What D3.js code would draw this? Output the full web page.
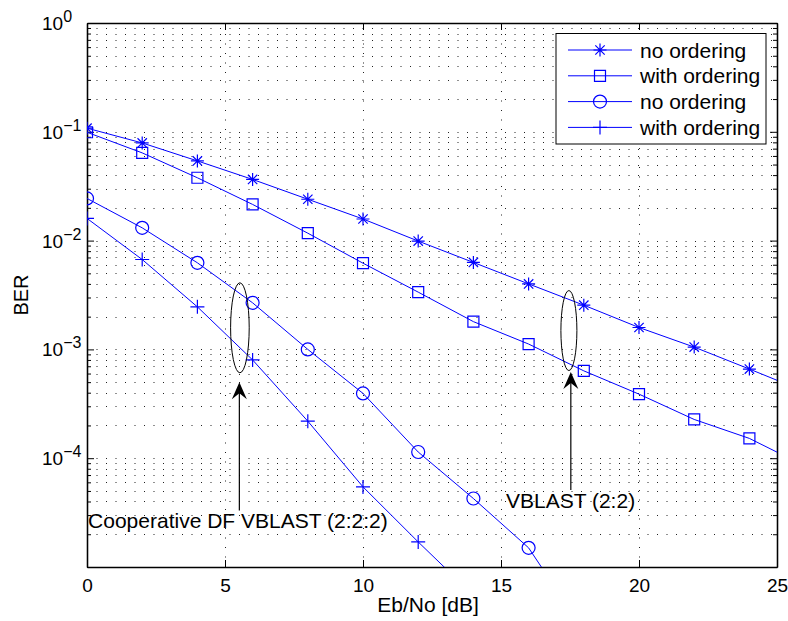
<!DOCTYPE html>
<html>
<head>
<meta charset="utf-8">
<script src="https://cdn.jsdelivr.net/npm/d3@7"></script>
<style>
body { margin: 0; background: #fff; }
svg { display: block; font-family: "Liberation Sans", Arial, sans-serif; }
</style>
</head>
<body>
<div class="visHolder"></div>
<script>
// data
var ebno = [0, 2, 4, 6, 8, 10, 12, 14, 16, 18, 20, 22, 24, 26];
var vblastNoOrd = [0.108, 0.079, 0.054, 0.0365, 0.024, 0.0158, 0.0099, 0.0063, 0.0040, 0.00255, 0.00159, 0.00105, 0.00066, 0.00041];
var vblastOrd = [0.099, 0.064, 0.0378, 0.0215, 0.0117, 0.0062, 0.00336, 0.0018, 0.00112, 0.000635, 0.000388, 0.000227, 0.000152, 0.000085];
var coopNoOrd = [0.0244, 0.0131, 0.00625, 0.00268, 0.001, 0.000394, 0.000114, 4.26e-5, 1.5e-5, 2.6e-6];
var coopOrd = [0.016, 0.0067, 0.00246, 0.0008, 0.000219, 5.45e-5, 1.7e-5, 5.5e-6];
var legendLabels = ['no ordering', 'with ordering', 'no ordering', 'with ordering'];
var markers = ['star', 'square', 'circle', 'plus'];
var xTicks = [0, 5, 10, 15, 20, 25];
var yTicks = [1, 0.1, 0.01, 0.001, 0.0001];
var yExps = ['0', '\u22121', '\u22122', '\u22123', '\u22124'];

// annotations (data coords)
var ellipses = [{x: 5.54, y: 0.00158, rx: 9.3, ry: 45}, {x: 17.46, y: 0.00149, rx: 8, ry: 40}];
var arrows = [{x: 5.52, y0: 3.3e-5, y1: 5.0e-4}, {x: 17.53, y0: 5.1e-5, y1: 6.2e-4}];
var notes = [{x: 0.04, y: 2.3e-5, text: 'Cooperative DF VBLAST (2:2:2)'}, {x: 15.18, y: 3.5e-5, text: 'VBLAST (2:2)'}];

var W = 788, H = 621;
var pLeft = 87, pRight = 777, pTop = 23, pBottom = 567;
var blue = '#0000ff';

var svg = d3.select('.visHolder').append('svg')
  .attr('width', W)
  .attr('height', H);

svg.append('rect').attr('width', W).attr('height', H).attr('fill', '#fff');

var x = d3.scaleLinear().domain([0, 25]).range([pLeft, pRight]);
var y = d3.scaleLog().domain([1e-5, 1]).range([pBottom, pTop]);

var minorY = [];
for (var e = -5; e < 0; e++) {
  for (var m = 2; m <= 9; m++) minorY.push(m * Math.pow(10, e));
}

// grid
var grid = svg.append('g').attr('stroke', '#222').attr('stroke-width', 1).attr('stroke-dasharray', '1,8.5');
grid.selectAll('.hg').data(minorY.concat(yTicks.slice(1))).enter().append('line')
  .attr('x1', pLeft).attr('x2', pRight)
  .attr('y1', function(d) { return Math.round(y(d)) + 0.5; })
  .attr('y2', function(d) { return Math.round(y(d)) + 0.5; });
grid.selectAll('.vg').data(xTicks.slice(1, -1)).enter().append('line')
  .attr('y1', pBottom).attr('y2', pTop)
  .attr('x1', function(d) { return Math.round(x(d)) + 0.5; })
  .attr('x2', function(d) { return Math.round(x(d)) + 0.5; });

// axes
var axB = svg.append('g').attr('transform', 'translate(0,' + pBottom + ')')
  .call(d3.axisBottom(x).tickValues(xTicks).tickSize(-7).tickSizeOuter(0).tickPadding(12));
var axT = svg.append('g').attr('transform', 'translate(0,' + pTop + ')')
  .call(d3.axisTop(x).tickValues(xTicks).tickSize(-7).tickSizeOuter(0).tickFormat(''));
var axL = svg.append('g').attr('transform', 'translate(' + pLeft + ',0)')
  .call(d3.axisLeft(y).tickValues(yTicks.concat([1e-5])).tickSize(-7).tickSizeOuter(0).tickFormat(''));
var axR = svg.append('g').attr('transform', 'translate(' + pRight + ',0)')
  .call(d3.axisRight(y).tickValues(yTicks.concat([1e-5])).tickSize(-7).tickSizeOuter(0).tickFormat(''));
var axLm = svg.append('g').attr('transform', 'translate(' + pLeft + ',0)')
  .call(d3.axisLeft(y).tickValues(minorY).tickSize(-4).tickSizeOuter(0).tickFormat(''));
var axRm = svg.append('g').attr('transform', 'translate(' + pRight + ',0)')
  .call(d3.axisRight(y).tickValues(minorY).tickSize(-4).tickSizeOuter(0).tickFormat(''));

[axB, axT, axL, axR, axLm, axRm].forEach(function(a) {
  a.selectAll('path.domain').attr('stroke', '#000').attr('stroke-width', 1.3);
  a.selectAll('.tick line').attr('stroke', '#000');
});
axB.selectAll('.tick text').attr('font-size', 19).attr('font-family', '"Liberation Sans", Arial, sans-serif').attr('fill', '#000');

// y tick labels 10^n
var yl = svg.append('g').attr('font-size', 19).attr('fill', '#000');
yTicks.forEach(function(v, i) {
  var t = yl.append('text').attr('x', 42).attr('y', y(v) + 7);
  t.append('tspan').text('10');
  t.append('tspan').attr('font-size', 16).attr('dy', -8).text(yExps[i]);
});

// axis titles
svg.append('text')
  .attr('x', 428).attr('y', 612)
  .attr('text-anchor', 'middle').attr('font-size', 21)
  .text('Eb/No [dB]');
svg.append('text')
  .attr('transform', 'rotate(-90)')
  .attr('x', -(pTop + pBottom) / 2).attr('y', 28)
  .attr('text-anchor', 'middle').attr('font-size', 20)
  .text('BER');

// series
svg.append('clipPath').attr('id', 'clip').append('rect')
  .attr('x', pLeft).attr('y', pTop).attr('width', pRight - pLeft).attr('height', pBottom - pTop);

function markerPath(type, cx, cy) {
  var p = d3.path();
  var s;
  if (type === 'square') {
    s = 5.5;
    p.rect(cx - s, cy - s, 2 * s, 2 * s);
  } else if (type === 'circle') {
    s = 6.5;
    p.moveTo(cx + s, cy);
    p.arc(cx, cy, s, 0, 2 * Math.PI);
  } else if (type === 'plus') {
    s = 7;
    p.moveTo(cx - s, cy); p.lineTo(cx + s, cy);
    p.moveTo(cx, cy - s); p.lineTo(cx, cy + s);
  } else {
    s = 6.5;
    var d = s * 0.72;
    p.moveTo(cx - s, cy); p.lineTo(cx + s, cy);
    p.moveTo(cx, cy - s); p.lineTo(cx, cy + s);
    p.moveTo(cx - d, cy - d); p.lineTo(cx + d, cy + d);
    p.moveTo(cx - d, cy + d); p.lineTo(cx + d, cy - d);
  }
  return p.toString();
}

var seriesList = [vblastNoOrd, vblastOrd, coopNoOrd, coopOrd];
var line = d3.line()
  .x(function(d) { return x(d[0]); })
  .y(function(d) { return y(d[1]); });

var plot = svg.append('g').attr('clip-path', 'url(#clip)');
seriesList.forEach(function(vals, k) {
  var pts = vals.map(function(v, i) { return [ebno[i], v]; });
  plot.append('path')
    .datum(pts)
    .attr('d', line)
    .attr('fill', 'none')
    .attr('stroke', blue)
    .attr('stroke-width', 1);
  plot.selectAll('.m' + k).data(pts).enter().append('path')
    .attr('d', function(d) { return markerPath(markers[k], x(d[0]), y(d[1])); })
    .attr('fill', 'none')
    .attr('stroke', blue)
    .attr('stroke-width', 1.2);
});

// annotations
ellipses.forEach(function(el) {
  svg.append('ellipse')
    .attr('cx', x(el.x)).attr('cy', y(el.y))
    .attr('rx', el.rx).attr('ry', el.ry)
    .attr('fill', 'none').attr('stroke', '#000').attr('stroke-width', 1);
});
arrows.forEach(function(a) {
  var ax = x(a.x), yb = y(a.y0), yt = y(a.y1);
  svg.append('line')
    .attr('x1', ax).attr('x2', ax)
    .attr('y1', yb).attr('y2', yt + 10)
    .attr('stroke', '#000').attr('stroke-width', 1.2);
  svg.append('path')
    .attr('d', 'M' + ax + ',' + yt + 'L' + (ax + 7.5) + ',' + (yt + 17) +
      'L' + ax + ',' + (yt + 11) + 'L' + (ax - 7.5) + ',' + (yt + 17) + 'Z')
    .attr('fill', '#000');
});
notes.forEach(function(n) {
  svg.append('text')
    .attr('x', x(n.x)).attr('y', y(n.y))
    .attr('font-size', 21).attr('fill', '#000')
    .text(n.text);
});

// legend
var lg = svg.append('g');
lg.append('rect')
  .attr('x', 556).attr('y', 33.5).attr('width', 210).attr('height', 110.5)
  .attr('fill', '#fff').attr('stroke', '#000').attr('stroke-width', 1);
legendLabels.forEach(function(lbl, i) {
  var ly = 50 + i * 25.8;
  lg.append('line')
    .attr('x1', 568).attr('x2', 632).attr('y1', ly).attr('y2', ly)
    .attr('stroke', blue).attr('stroke-width', 1);
  lg.append('path')
    .attr('d', markerPath(markers[i], 600, ly))
    .attr('fill', 'none').attr('stroke', blue).attr('stroke-width', 1.2);
  lg.append('text')
    .attr('x', 640).attr('y', ly + 7.5)
    .attr('font-size', 21).attr('fill', '#000')
    .text(lbl);
});
</script>
</body>
</html>
